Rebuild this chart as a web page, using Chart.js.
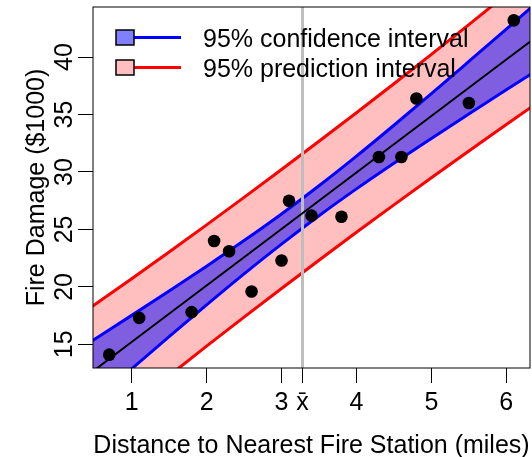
<!DOCTYPE html>
<html>
<head>
<meta charset="utf-8">
<script src="https://cdn.jsdelivr.net/npm/chart.js@4.4.1/dist/chart.umd.min.js"></script>
<style>
  html, body { margin: 0; padding: 0; background: #fff; }
  canvas { display: block; }
</style>
</head>
<body>
<canvas id="fireChart" width="532" height="457"></canvas>
<script>
// observed data: distance (miles) vs fire damage ($1000)
const distance = [3.4, 1.8, 4.6, 2.3, 3.1, 5.5, 0.7, 3.0, 2.6, 4.3, 2.1, 1.1, 6.1, 4.8, 3.8];
const damage = [26.2, 17.8, 31.3, 23.1, 27.5, 36.0, 14.1, 22.3, 19.6, 31.3, 24.0, 17.3, 43.2, 36.4, 26.1];

// fitted line and 95% bands, sampled along x
const bandX = [0, 0.5, 1, 1.5, 2, 2.5, 3, 3.5, 4, 4.5, 5, 5.5, 6, 6.5, 7];
const fitY = [10.28, 12.74, 15.20, 17.66, 20.12, 22.58, 25.04, 27.50, 29.95, 32.41, 34.87, 37.33, 39.79, 42.25, 44.71];
const ciLow = [7.21, 10.05, 12.87, 15.67, 18.43, 21.13, 23.72, 26.19, 28.53, 30.76, 32.92, 35.05, 37.15, 39.23, 41.30];
const ciHigh = [13.35, 15.43, 17.52, 19.64, 21.80, 24.03, 26.35, 28.80, 31.38, 34.07, 36.82, 39.62, 42.44, 45.27, 48.12];
const piLow = [4.41, 7.06, 9.68, 12.27, 14.84, 17.37, 19.86, 22.32, 24.75, 27.14, 29.50, 31.83, 34.13, 36.41, 38.66];
const piHigh = [16.15, 18.42, 20.71, 23.04, 25.40, 27.79, 30.21, 32.67, 35.16, 37.68, 40.24, 42.83, 45.45, 48.10, 50.77];

const xBar = 3.28;
const xTicks = [1, 2, 3, 4, 5, 6];
const yTicks = [15, 20, 25, 30, 35, 40];
const xRange = [0.484, 6.316];
const yRange = [12.94, 44.36];

const legendLabels = ['95% confidence interval', '95% prediction interval'];
const FONT = '25px "Liberation Sans", Arial, Helvetica, sans-serif';

function pairs(xs, ys) {
    return xs.map((x, i) => ({ x: x, y: ys[i] }));
}

// draws the R-style box, tick labels, axis titles and legend
const rStyle = {
    id: 'rStyle',
    afterDraw(chart) {
        const ctx = chart.ctx;
        const area = chart.chartArea;
        const xs = chart.scales.x;
        const ys = chart.scales.y;
        ctx.save();

        ctx.strokeStyle = '#000';
        ctx.lineWidth = 1;
        ctx.strokeRect(area.left, area.top, area.right - area.left, area.bottom - area.top);

        ctx.font = FONT;
        ctx.fillStyle = '#000';

        // x tick labels
        ctx.textAlign = 'center';
        ctx.textBaseline = 'alphabetic';
        xTicks.forEach(v => ctx.fillText(String(v), xs.getPixelForValue(v), 410));
        ctx.fillText('x\u0304', xs.getPixelForValue(xBar), 410);

        // x title
        ctx.fillText('Distance to Nearest Fire Station (miles)', (area.left + area.right) / 2, 453);

        // y tick labels, rotated like R
        yTicks.forEach(v => {
            ctx.save();
            ctx.translate(72, ys.getPixelForValue(v));
            ctx.rotate(-Math.PI / 2);
            ctx.fillText(String(v), 0, 0);
            ctx.restore();
        });

        // y title
        ctx.save();
        ctx.translate(44, (area.top + area.bottom) / 2);
        ctx.rotate(-Math.PI / 2);
        ctx.fillText('Fire Damage ($1000)', 0, 0);
        ctx.restore();

        // legend
        const fills = ['rgb(128,128,255)', 'rgb(255,191,191)'];
        const lines = ['#0000ff', '#ff0000'];
        [30, 60].forEach((top, i) => {
            ctx.fillStyle = fills[i];
            ctx.fillRect(116, top, 18, 15);
            ctx.strokeStyle = lines[i];
            ctx.lineWidth = 3;
            ctx.beginPath();
            ctx.moveTo(134, top + 7.5);
            ctx.lineTo(181, top + 7.5);
            ctx.stroke();
            ctx.strokeStyle = '#000';
            ctx.lineWidth = 1.5;
            ctx.strokeRect(116, top, 18, 15);
            ctx.fillStyle = '#000';
            ctx.textAlign = 'left';
            ctx.fillText(legendLabels[i], 203, top + 17);
        });

        ctx.restore();
    }
};

const axisGrid = {
    drawOnChartArea: false,
    drawTicks: true,
    tickLength: 15,
    color: '#000',
    lineWidth: 1
};

new Chart(document.getElementById('fireChart'), {
    type: 'line',
    data: {
        datasets: [
            {
                // 0: prediction upper, filled down to prediction lower
                data: pairs(bandX, piHigh),
                borderColor: '#ff0000',
                borderWidth: 3,
                backgroundColor: 'rgba(255,0,0,0.25)',
                fill: '+1',
                pointRadius: 0,
                cubicInterpolationMode: 'monotone',
                clip: 0,
                order: 6
            },
            {
                data: pairs(bandX, piLow),
                borderColor: '#ff0000',
                borderWidth: 3,
                fill: false,
                pointRadius: 0,
                cubicInterpolationMode: 'monotone',
                clip: 0,
                order: 5
            },
            {
                // 2: confidence upper, filled down to confidence lower
                data: pairs(bandX, ciHigh),
                borderColor: '#0000ff',
                borderWidth: 3,
                backgroundColor: 'rgba(0,0,255,0.5)',
                fill: '+1',
                pointRadius: 0,
                cubicInterpolationMode: 'monotone',
                clip: 0,
                order: 4
            },
            {
                data: pairs(bandX, ciLow),
                borderColor: '#0000ff',
                borderWidth: 3,
                fill: false,
                pointRadius: 0,
                cubicInterpolationMode: 'monotone',
                clip: 0,
                order: 3
            },
            {
                // mean of x
                data: [{ x: xBar, y: yRange[0] }, { x: xBar, y: yRange[1] }],
                borderColor: '#bebebe',
                borderWidth: 3,
                fill: false,
                pointRadius: 0,
                clip: 0,
                order: 2
            },
            {
                data: pairs(bandX, fitY),
                borderColor: '#000',
                borderWidth: 2,
                fill: false,
                pointRadius: 0,
                clip: 0,
                order: 1
            },
            {
                data: pairs(distance, damage),
                showLine: false,
                pointRadius: 6.3,
                pointBackgroundColor: '#000',
                pointBorderWidth: 0,
                order: 0
            }
        ]
    },
    options: {
        responsive: false,
        animation: false,
        layout: { autoPadding: false, padding: { top: 7, right: 2, left: 0, bottom: 0 } },
        plugins: {
            legend: { display: false },
            tooltip: { enabled: false }
        },
        scales: {
            x: {
                type: 'linear',
                min: xRange[0],
                max: xRange[1],
                afterBuildTicks: s => { s.ticks = xTicks.concat([xBar]).map(v => ({ value: v })); },
                afterFit: s => { s.height = 89; },
                ticks: { display: false },
                grid: axisGrid,
                border: { display: false }
            },
            y: {
                type: 'linear',
                min: yRange[0],
                max: yRange[1],
                afterBuildTicks: s => { s.ticks = yTicks.map(v => ({ value: v })); },
                afterFit: s => { s.width = 93; },
                ticks: { display: false },
                grid: axisGrid,
                border: { display: false }
            }
        }
    },
    plugins: [rStyle]
});
</script>
</body>
</html>
